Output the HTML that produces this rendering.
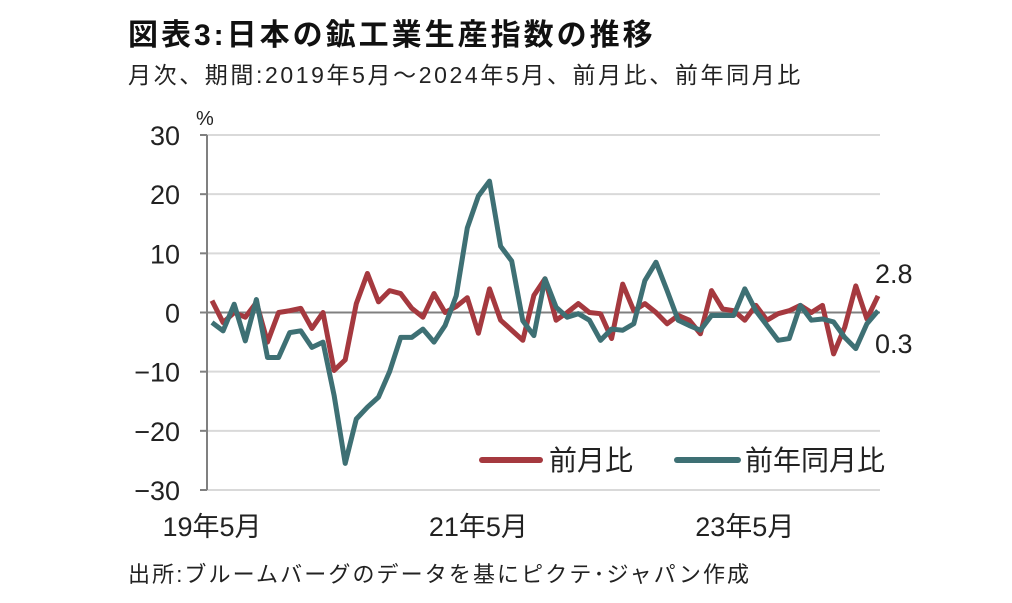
<!DOCTYPE html>
<html><head><meta charset="utf-8"><style>
body{margin:0;background:#fff;width:1012px;height:598px;overflow:hidden;font-family:"Liberation Sans","Noto Sans CJK JP",sans-serif;}
</style></head><body>
<svg width="1012" height="598" font-family="'Liberation Sans','Noto Sans CJK JP',sans-serif">
<text x="128" y="45" font-size="30" font-weight="bold" fill="#111" letter-spacing="3">図表3:日本の鉱工業生産指数の推移</text>
<text x="128" y="83" font-size="23" fill="#222" letter-spacing="2.6">月次、期間:2019年5月～2024年5月、前月比、前年同月比</text>
<text x="196" y="125" font-size="20" fill="#222">%</text>
<g id="grid"></g><g id="yt"></g><g id="xt"></g><g id="series"></g>
<g>
<line x1="482" y1="460" x2="540" y2="460" stroke="#a5393f" stroke-width="6" stroke-linecap="round"/>
<text x="549" y="470" font-size="28" fill="#222">前月比</text>
<line x1="677" y1="460" x2="738" y2="460" stroke="#3e7074" stroke-width="6" stroke-linecap="round"/>
<text x="745" y="470" font-size="28" fill="#222">前年同月比</text>
</g>
<text x="128" y="582" font-size="22" fill="#222" letter-spacing="2.1">出所:ブルームバーグのデータを基にピクテ･ジャパン作成</text>
</svg>
<script>
const yTicks=[30,20,10,0,-10,-20,-30];
const xLabels=["19年5月","21年5月","23年5月"];
const xLabelIdx=[0,24,48];
const mom=[2,-1.7,0,-0.8,1.7,-5,0,0.3,0.7,-2.7,0,-9.8,-8,1.5,6.6,1.8,3.7,3.2,0.7,-0.8,3.2,0,1,2.5,-3.5,4,-1.3,-3,-4.7,2.9,5.7,-1.3,0,1.5,0,-0.2,-4.4,4.8,0.3,1.5,0,-1.9,-0.5,-1.3,-3.6,3.7,0.6,0.3,-1.3,1.2,-1.3,-0.2,0.3,1.2,0,1.2,-7,-2.5,4.5,-1.1,2.8];
const yoy=[-1.7,-3.1,1.4,-4.8,2.2,-7.6,-7.6,-3.4,-3.1,-5.9,-5,-14,-25.5,-18,-16,-14.3,-10,-4.2,-4.2,-2.8,-5,-2.2,2.8,14.3,19.7,22.2,11.2,8.7,-1.4,-3.9,5.7,0.9,-0.8,-0.2,-1.3,-4.7,-2.8,-3,-1.9,5.4,8.5,3.7,-1.3,-2.2,-3,-0.5,-0.5,-0.5,4,0.3,-2.2,-4.7,-4.4,1.2,-1.3,-1.1,-1.6,-4.2,-6.1,-1.9,0.3];
const NS="http://www.w3.org/2000/svg";
const x0=212,x1=878,yTop=135,yBot=490;
const xs=i=>x0+(x1-x0)*i/(mom.length-1);
const ys=v=>yTop+(30-v)/60*(yBot-yTop);
function mk(t,a,p){const e=document.createElementNS(NS,t);for(const k in a)e.setAttribute(k,a[k]);p.appendChild(e);return e;}
const grid=document.getElementById('grid'),yt=document.getElementById('yt'),xt=document.getElementById('xt'),ser=document.getElementById('series');
yTicks.forEach(v=>{
 const y=ys(v);
 const g=mk('line',{x1:207,x2:880,y1:y,y2:y,stroke:v===0?'#808080':'#d9d9d9','stroke-width':2},grid);
 
 
 const tk=mk('line',{x1:200,x2:207,y1:y,y2:y,stroke:'#808080','stroke-width':2},yt);
 
 
 const t=mk('text',{x:180,y:y+10,'text-anchor':'end','font-size':27,fill:'#222'},yt);
 t.textContent=v<0?'−'+(-v):String(v);
 
 
});
const ax=mk('line',{x1:207,x2:207,y1:yTop,y2:yBot,stroke:'#808080','stroke-width':2},yt);


xLabels.forEach((l,k)=>{
 const t=mk('text',{x:xs(xLabelIdx[k]),y:536,'text-anchor':'middle','font-size':27,fill:'#222'},xt);
 t.textContent=l;
 
 
});
function line(d,c,n){
 const p=mk('polyline',{points:d.map((v,i)=>xs(i)+','+ys(v)).join(' '),fill:'none',stroke:c,'stroke-width':5,'stroke-linejoin':'round'},ser);
 
 
}
line(mom,'#a5393f','mom-line');
line(yoy,'#3e7074','yoy-line');
const l1=mk('text',{x:875,y:283,'font-size':27,fill:'#222'},ser);
l1.textContent=mom[mom.length-1].toFixed(1);


const l2=mk('text',{x:875,y:353,'font-size':27,fill:'#222'},ser);
l2.textContent=yoy[yoy.length-1].toFixed(1);


</script>
</body></html>
